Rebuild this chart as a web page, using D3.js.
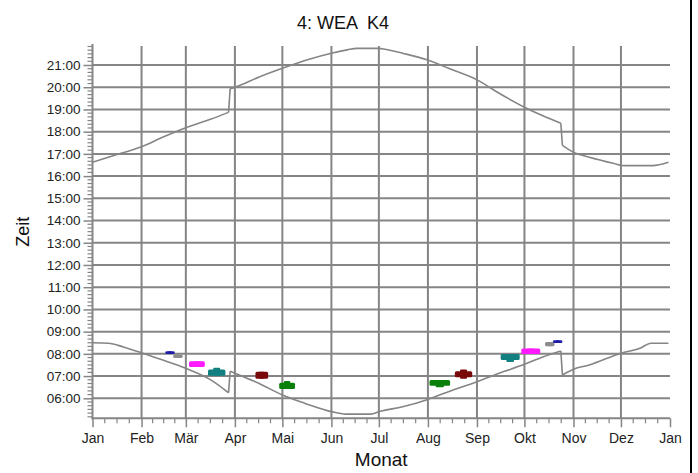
<!DOCTYPE html>
<html>
<head>
<meta charset="utf-8">
<script src="https://cdn.jsdelivr.net/npm/d3@7"></script>
<style>
  html, body { margin: 0; padding: 0; background: #fff; }
  svg { display: block; font-family: "Liberation Sans", Arial, sans-serif; }
</style>
</head>
<body>
<svg id="chart" width="698" height="473"></svg>
<script>
// ---------- data ----------
const title = "4: WEA  K4";
const yTitle = "Zeit";
const xTitle = "Monat";
const monthLabels = ["Jan","Feb","Mär","Apr","Mai","Jun","Jul","Aug","Sep","Okt","Nov","Dez","Jan"];
const hourTicks = [6,7,8,9,10,11,12,13,14,15,16,17,18,19,20,21];

// sunset (upper curve): date "MM-DD", time in hours
const sunsetDates = ["01-01","01-17","02-01","02-15","03-01","03-17","03-28","03-29","04-01","04-16","05-01","05-18","06-01","06-11","06-17","07-01","07-05","07-16","08-01","08-14","09-01","09-15","10-01","10-13","10-24","10-25","11-01","11-11","11-26","12-03","12-21","12-31"];
const sunsetTimes = [16.62,16.98,17.32,17.77,18.18,18.57,18.87,19.93,20.00,20.45,20.85,21.26,21.53,21.68,21.75,21.75,21.71,21.53,21.22,20.85,20.33,19.73,19.10,18.70,18.38,17.38,17.07,16.85,16.58,16.47,16.47,16.62];

// sunrise (lower curve)
const sunriseDates = ["01-01","01-11","01-21","02-01","02-11","03-01","03-17","03-28","03-29","04-01","04-16","05-01","05-15","06-01","06-10","06-26","07-01","07-16","08-01","08-14","09-01","09-15","10-01","10-13","10-24","10-25","11-01","11-11","12-01","12-13","12-20","12-31"];
const sunriseTimes = [8.50,8.48,8.30,8.05,7.80,7.35,6.82,6.25,7.22,7.13,6.68,6.15,5.78,5.40,5.29,5.29,5.40,5.62,5.95,6.30,6.75,7.13,7.53,7.87,8.13,7.05,7.31,7.50,8.03,8.25,8.48,8.48];

// shadow periods (coloured blobs)
const periodStart = ["02-16","02-21","03-03","03-15","04-14","04-29","08-02","08-18","09-16","09-29","10-14","10-19"];
const periodEnd   = ["02-22","02-27","03-13","03-26","04-22","05-09","08-15","08-29","09-28","10-11","10-20","10-25"];
const periodFrom  = [7.99,7.81,7.41,7.02,6.88,6.42,6.57,6.95,7.72,7.99,8.34,8.49];
const periodTo    = [8.12,7.97,7.67,7.30,7.19,6.70,6.82,7.22,7.99,8.24,8.53,8.61];
// extreme extent reached in the middle part of a period
const peakFrom    = [7.99,7.81,7.41,7.02,6.88,6.42,6.50,6.88,7.63,7.99,8.34,8.49];
const peakTo      = [8.12,7.97,7.67,7.38,7.19,6.78,6.82,7.30,7.99,8.24,8.53,8.61];
const periodColor = ["#1c1ca8","#8c8c8c","#ff1aff","#128080","#7a0a0a","#0a800a","#0a800a","#7a0a0a","#128080","#ff1aff","#8c8c8c","#1c1ca8"];

// ---------- setup ----------
const YEAR = 2019;
const DAY = 864e5;
const parseD = s => new Date(YEAR, +s.slice(0,2)-1, +s.slice(3,5));
const svg = d3.select("#chart");
const L = 92.5, R = 670, T = 45, B = 418.3;

const x = d3.scaleTime().domain([new Date(YEAR,0,1), new Date(YEAR+1,0,1)]).range([L, R]);
const y = d3.scaleLinear().domain([5.1, 21.9]).range([B, T]);

const monthDates = d3.range(13).map(m => new Date(YEAR, m, 1));
const minorX = [];
for (let m = 0; m < 12; m++) {
  const a = monthDates[m], b = monthDates[m+1];
  for (let q = 1; q < 4; q++) minorX.push(new Date(+a + (b - a) * q / 4));
}
const minorY = d3.range(31, 132).map(i => i / 6).filter(h => Math.abs(h - Math.round(h)) > 1e-6);

const grid = "#858585";

// gridlines
svg.append("g").selectAll("line").data(hourTicks).join("line")
  .attr("x1", L).attr("x2", R).attr("y1", d => y(d)).attr("y2", d => y(d))
  .attr("stroke", grid).attr("stroke-width", 2);
svg.append("g").selectAll("line").data(monthDates.slice(1, 12)).join("line")
  .attr("x1", d => x(d)).attr("x2", d => x(d)).attr("y1", T + 1).attr("y2", B)
  .attr("stroke", grid).attr("stroke-width", 2);

// curves: smooth between clock changes, straight jumps at the clock changes
const smooth = d3.line().x(d => x(d[0])).y(d => y(d[1])).curve(d3.curveMonotoneX);
const straight = d3.line().x(d => x(d[0])).y(d => y(d[1]));
function drawSeries(dates, times) {
  const pts = dates.map((d, i) => [parseD(d), times[i]]);
  const segs = [[pts[0]]];
  for (let i = 1; i < pts.length; i++) {
    if (pts[i][0] - pts[i-1][0] <= 1.5 * DAY) {
      svg.append("path").datum([pts[i-1], pts[i]]).attr("d", straight)
        .attr("fill", "none").attr("stroke", "#858585").attr("stroke-width", 1.6);
      segs.push([pts[i]]);
    } else segs[segs.length - 1].push(pts[i]);
  }
  segs.forEach(s => svg.append("path").datum(s).attr("d", smooth)
    .attr("fill", "none").attr("stroke", "#858585").attr("stroke-width", 1.6)
    .attr("stroke-linejoin", "round"));
}
drawSeries(sunsetDates, sunsetTimes);
drawSeries(sunriseDates, sunriseTimes);

// shadow period blobs
const gP = svg.append("g");
periodStart.forEach((s, i) => {
  const d0 = parseD(s), d1 = parseD(periodEnd[i]);
  const x0 = x(d0), x1 = x(d1);
  gP.append("rect")
    .attr("x", x0).attr("width", x1 - x0)
    .attr("y", y(periodTo[i])).attr("height", y(periodFrom[i]) - y(periodTo[i]))
    .attr("rx", 1.5).attr("fill", periodColor[i]);
  const m0 = new Date(+d0 + (d1 - d0) * 0.3), m1 = new Date(+d0 + (d1 - d0) * 0.7);
  gP.append("rect")
    .attr("x", x(m0)).attr("width", x(m1) - x(m0))
    .attr("y", y(peakTo[i])).attr("height", y(peakFrom[i]) - y(peakTo[i]))
    .attr("rx", 1).attr("fill", periodColor[i]);
});

// axes
const axisCol = "#858585";
const yAxis = svg.append("g").attr("transform", `translate(${L},0)`)
  .call(d3.axisLeft(y).tickValues(hourTicks).tickSize(9).tickPadding(3)
    .tickFormat(h => String(h).padStart(2, "0") + ":00"));
yAxis.select(".domain").remove();
yAxis.selectAll(".tick line").attr("stroke", axisCol).attr("stroke-width", 1.5);
yAxis.selectAll("text").attr("font-size", 13.5).attr("fill", "#222")
  .attr("font-family", "Liberation Sans, Arial, sans-serif");
svg.append("g").selectAll("line").data(minorY).join("line")
  .attr("x1", L - 5).attr("x2", L).attr("y1", d => y(d)).attr("y2", d => y(d))
  .attr("stroke", axisCol).attr("stroke-width", 1.2);
svg.append("line").attr("x1", L).attr("x2", L).attr("y1", T - 1).attr("y2", B + 1)
  .attr("stroke", axisCol).attr("stroke-width", 2);

const xAxis = svg.append("g").attr("transform", `translate(0,${B})`)
  .call(d3.axisBottom(x).tickValues(monthDates).tickSize(9).tickPadding(6)
    .tickFormat((d, i) => monthLabels[i]));
xAxis.select(".domain").remove();
xAxis.selectAll(".tick line").attr("stroke", axisCol).attr("stroke-width", 1.5);
xAxis.selectAll("text").attr("font-size", 14).attr("fill", "#222")
  .attr("font-family", "Liberation Sans, Arial, sans-serif");
svg.append("g").selectAll("line").data(minorX).join("line")
  .attr("x1", d => x(d)).attr("x2", d => x(d)).attr("y1", B).attr("y2", B + 5)
  .attr("stroke", axisCol).attr("stroke-width", 1.2);
svg.append("line").attr("x1", L - 1).attr("x2", R).attr("y1", B).attr("y2", B)
  .attr("stroke", axisCol).attr("stroke-width", 2);

// titles
svg.append("text").attr("x", 343).attr("y", 29).attr("text-anchor", "middle")
  .attr("font-size", 18).attr("fill", "#111").style("white-space", "pre").text(title);
svg.append("text").attr("transform", `translate(29,${(T + B) / 2}) rotate(-90)`)
  .attr("text-anchor", "middle").attr("font-size", 18).attr("fill", "#111").text(yTitle);
svg.append("text").attr("x", (L + R) / 2).attr("y", 466).attr("text-anchor", "middle")
  .attr("font-size", 19).attr("fill", "#111").text(xTitle);

// right frame edge
svg.append("line").attr("x1", 691).attr("x2", 691).attr("y1", 0).attr("y2", 473)
  .attr("stroke", "#000").attr("stroke-width", 2);
</script>
</body>
</html>
